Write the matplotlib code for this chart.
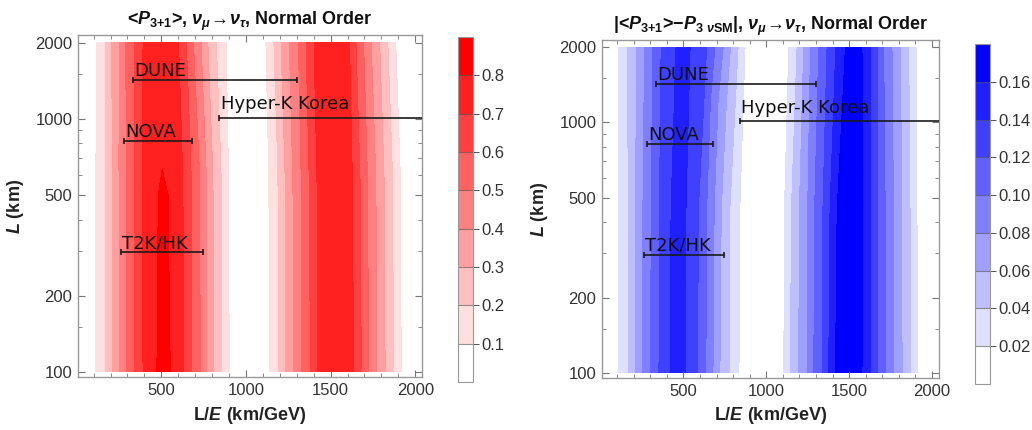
import numpy as np
import matplotlib
matplotlib.use("Agg")
import matplotlib.pyplot as plt
import matplotlib.tri as mtri
from matplotlib.ticker import FixedLocator, NullFormatter

# ---------------- data ----------------
# Left panel: <P_{3+1}> field, sampled along rows of constant L (km)
red_rows_L = [100, 500, 650, 2000]
red_LE_100 = [8, 114, 173, 213, 252, 297, 343, 392, 474, 513, 553, 632, 681, 730, 770, 809, 858, 901, 1020,
              1139, 1193, 1236, 1281, 1331, 1380, 1425, 1530, 1635, 1681, 1724, 1773, 1822, 1871, 1917, 2040]
red_P_100 = [0.02, 0.1, 0.2, 0.3, 0.4, 0.5, 0.6, 0.7, 0.8, 0.86, 0.8, 0.7, 0.6, 0.5, 0.4, 0.3, 0.2, 0.1, 0.02,
             0.1, 0.2, 0.3, 0.4, 0.5, 0.6, 0.7, 0.78, 0.7, 0.6, 0.5, 0.4, 0.3, 0.2, 0.1, 0.02]
red_LE_500 = [8, 114, 172, 212, 251, 295, 342, 391, 482, 510, 540, 628, 678, 727, 767, 806, 855, 898, 1020,
              1136, 1190, 1233, 1278, 1328, 1376, 1421, 1528, 1630, 1676, 1719, 1768, 1818, 1867, 1913, 2040]
red_P_500 = [0.02, 0.1, 0.2, 0.3, 0.4, 0.5, 0.6, 0.7, 0.8, 0.84, 0.8, 0.7, 0.6, 0.5, 0.4, 0.3, 0.2, 0.1, 0.02,
             0.1, 0.2, 0.3, 0.4, 0.5, 0.6, 0.7, 0.78, 0.7, 0.6, 0.5, 0.4, 0.3, 0.2, 0.1, 0.02]
red_LE_650 = [8, 114, 171, 211, 250, 294, 341, 391, 505, 625, 675, 724, 764, 803, 852, 896, 1020,
              1134, 1188, 1230, 1275, 1325, 1372, 1418, 1525, 1627, 1672, 1716, 1765, 1814, 1864, 1910, 2040]
red_P_650 = [0.02, 0.1, 0.2, 0.3, 0.4, 0.5, 0.6, 0.7, 0.795, 0.7, 0.6, 0.5, 0.4, 0.3, 0.2, 0.1, 0.02,
             0.1, 0.2, 0.3, 0.4, 0.5, 0.6, 0.7, 0.78, 0.7, 0.6, 0.5, 0.4, 0.3, 0.2, 0.1, 0.02]
red_LE_2000 = [8, 117, 169, 207, 251, 290, 340, 392, 500, 602, 648, 690, 735, 775, 825, 883, 1000,
               1118, 1165, 1207, 1256, 1310, 1355, 1402, 1510, 1612, 1650, 1695, 1740, 1790, 1838, 1885, 2040]
red_P_2000 = [0.02, 0.1, 0.2, 0.3, 0.4, 0.5, 0.6, 0.7, 0.78, 0.7, 0.6, 0.5, 0.4, 0.3, 0.2, 0.1, 0.02,
              0.1, 0.2, 0.3, 0.4, 0.5, 0.6, 0.7, 0.78, 0.7, 0.6, 0.5, 0.4, 0.3, 0.2, 0.1, 0.02]
red_levels = [0.0, 0.1, 0.2, 0.3, 0.4, 0.5, 0.6, 0.7, 0.8, 0.9]
red_cbar_ticks = [0.1, 0.2, 0.3, 0.4, 0.5, 0.6, 0.7, 0.8]
red_cbar_labels = ["0.1", "0.2", "0.3", "0.4", "0.5", "0.6", "0.7", "0.8"]

# Right panel: |<P_{3+1}> - P_{3 nuSM}| field
blue_rows_L = [100, 450, 2000]
blue_LE_100 = [8, 108, 168, 210, 252, 302, 352, 420, 466, 512, 585, 635, 678, 720, 775, 835, 990,
               1106, 1146, 1196, 1246, 1287, 1337, 1377, 1418, 1498, 1578, 1629, 1669, 1719, 1769, 1820, 1870, 1912, 2040]
blue_LE_450 = [8, 110, 168, 212, 255, 305, 355, 425, 470, 515, 590, 640, 685, 728, 780, 840, 990,
               1110, 1152, 1200, 1250, 1292, 1342, 1385, 1428, 1505, 1580, 1630, 1670, 1718, 1768, 1818, 1868, 1910, 2040]
blue_LE_2000 = [8, 110, 160, 215, 265, 315, 365, 455, 497, 540, 640, 690, 740, 784, 830, 872, 1000,
                1136, 1186, 1226, 1267, 1317, 1367, 1420, 1478, 1528, 1578, 1629, 1669, 1709, 1759, 1810, 1860, 1910, 2040]
blue_P_row = [0.005, 0.02, 0.04, 0.06, 0.08, 0.10, 0.12, 0.14, 0.15, 0.14, 0.12, 0.10, 0.08, 0.06, 0.04, 0.02, 0.005,
              0.02, 0.04, 0.06, 0.08, 0.10, 0.12, 0.14, 0.16, 0.175, 0.16, 0.14, 0.12, 0.10, 0.08, 0.06, 0.04, 0.02, 0.005]
blue_levels = [0.0, 0.02, 0.04, 0.06, 0.08, 0.10, 0.12, 0.14, 0.16, 0.18]
blue_cbar_ticks = [0.02, 0.04, 0.06, 0.08, 0.10, 0.12, 0.14, 0.16]
blue_cbar_labels = ["0.02", "0.04", "0.06", "0.08", "0.10", "0.12", "0.14", "0.16"]

# Experiments: baseline L (km) and L/E range (km/GeV)
exp_names = ["DUNE", "NOVA", "T2K/HK", "Hyper-K Korea"]
exp_L = [1420, 820, 297, 1010]
exp_LE_lo = [333, 280, 262, 842]
exp_LE_hi = [1300, 680, 745, 2100]

# ---------------- style ----------------
plt.rcParams["font.family"] = ["Liberation Sans", "DejaVu Sans"]
plt.rcParams["mathtext.fontset"] = "custom"
plt.rcParams["mathtext.rm"] = "Liberation Sans:bold"
plt.rcParams["mathtext.it"] = "Liberation Sans:italic:bold"
plt.rcParams["mathtext.bf"] = "Liberation Sans:bold"
plt.rcParams["mathtext.sf"] = "Liberation Sans:bold"

red_colors = [(1.0, 1 - k / 8, 1 - k / 8) for k in range(9)]
blue_colors = [(1 - k / 8, 1 - k / 8, 1.0) for k in range(9)]
exp_text_dy = [3, 3, 3, 6]

fig = plt.figure(figsize=(10.32, 4.30), dpi=100)
ax1 = fig.add_axes([78 / 1032, 53 / 430, 344 / 1032, 342 / 430])
cax1 = fig.add_axes([458 / 1032, 48 / 430, 15 / 1032, 345 / 430])
ax2 = fig.add_axes([602 / 1032, 52 / 430, 336.5 / 1032, 338 / 430])
cax2 = fig.add_axes([975 / 1032, 46 / 430, 15 / 1032, 340 / 430])


def build_tri(rows_L, rows_LE, rows_P):
    x = np.concatenate([np.asarray(le, float) for le in rows_LE])
    y = np.concatenate([np.full(len(le), float(L)) for L, le in zip(rows_L, rows_LE)])
    z = np.concatenate([np.asarray(p, float) for p in rows_P])
    t = mtri.Triangulation(x / 2000.0, np.log10(y) / 1.3)
    return mtri.Triangulation(x, y, triangles=t.triangles), z


def style_axes(ax, title, ylim):
    ax.set_yscale("log")
    ax.set_xlim(8, 2040)
    ax.set_ylim(*ylim)
    ax.set_xticks([500, 1000, 1500, 2000])
    ax.set_xticklabels(["500", "1000", "1500", "2000"])
    ax.xaxis.set_minor_locator(FixedLocator(list(range(100, 2001, 100))))
    ax.set_yticks([100, 200, 500, 1000, 2000])
    ax.set_yticklabels(["100", "200", "500", "1000", "2000"])
    ax.yaxis.set_minor_locator(FixedLocator([150, 300, 400, 600, 700, 800, 900, 1500]))
    ax.yaxis.set_minor_formatter(NullFormatter())
    ax.tick_params(which="both", direction="in", top=True, right=True, color="#777777")
    ax.tick_params(which="major", length=5, width=0.8, labelsize=12, labelcolor="#333333", pad=4)
    ax.tick_params(which="minor", length=2.8, width=0.6)
    for s in ax.spines.values():
        s.set_color("#999999")
        s.set_linewidth(1.0)
    ax.set_title(title, fontsize=13, fontweight="bold", pad=7, color="#111111")
    ax.set_xlabel(r"L/$E$ (km/GeV)", fontsize=13, fontweight="bold", labelpad=5, color="#222222")
    ax.set_ylabel(r"$L$ (km)", fontsize=13, fontweight="bold", labelpad=7, color="#222222")


def draw_experiments(ax):
    for name, L, lo, hi, dy in zip(exp_names, exp_L, exp_LE_lo, exp_LE_hi, exp_text_dy):
        ax.errorbar([(lo + hi) / 2], [L], xerr=[[(hi - lo) / 2], [(hi - lo) / 2]], fmt="none",
                    ecolor="#1a1a1a", elinewidth=1.2, capsize=2.5, capthick=1.2, zorder=4)
        ax.annotate(name, xy=(lo, L), xytext=(1, dy), textcoords="offset points", ha="left",
                    va="baseline", fontsize=13, family="DejaVu Sans", color="#111111", zorder=5)


def style_cbar(cb, ticks, labels):
    cb.set_ticks(ticks, labels=labels)
    cb.outline.set_edgecolor("#999999")
    cb.outline.set_linewidth(0.8)
    cb.dividers.set_color((0.3, 0.3, 0.3, 0.6))
    cb.dividers.set_linewidth(0.8)
    cb.ax.tick_params(direction="out", length=4, width=0.7, color="#555555", labelsize=12,
                      labelcolor="#333333", pad=2)
    cb.ax.minorticks_off()


# Left panel
tri_r, z_r = build_tri(red_rows_L, [red_LE_100, red_LE_500, red_LE_650, red_LE_2000],
                       [red_P_100, red_P_500, red_P_650, red_P_2000])
cs1 = ax1.tricontourf(tri_r, z_r, levels=red_levels, colors=red_colors)
style_axes(ax1, r"<$P_{3{+}1}$>, $\nu_\mu\!\rightarrow\!\nu_\tau$, Normal Order", (95.5, 2145))
draw_experiments(ax1)
cb1 = fig.colorbar(cs1, cax=cax1, drawedges=True)
style_cbar(cb1, red_cbar_ticks, red_cbar_labels)

# Right panel
tri_b, z_b = build_tri(blue_rows_L, [blue_LE_100, blue_LE_450, blue_LE_2000],
                       [blue_P_row, blue_P_row, blue_P_row])
cs2 = ax2.tricontourf(tri_b, z_b, levels=blue_levels, colors=blue_colors)
style_axes(ax2, r"|<$P_{3{+}1}$>$-$$P_{3\ \nu\mathrm{SM}}$|, $\nu_\mu\!\rightarrow\!\nu_\tau$, Normal Order",
           (95.5, 2133))
draw_experiments(ax2)
cb2 = fig.colorbar(cs2, cax=cax2, drawedges=True)
style_cbar(cb2, blue_cbar_ticks, blue_cbar_labels)

fig.savefig("out.png", dpi=100)
